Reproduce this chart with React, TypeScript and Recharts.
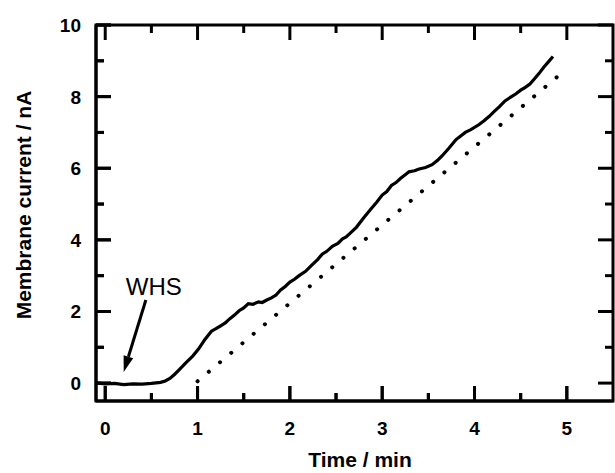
import { LineChart, Line, XAxis, YAxis, ReferenceLine } from "recharts";

// solid trace: membrane current after WHS addition
const traceTime = [
  -0.08, 0, 0.1, 0.2, 0.3, 0.4, 0.5, 0.6, 0.65, 0.7, 0.75, 0.8, 0.87, 0.95, 1.01,
  1.08, 1.15, 1.2, 1.25, 1.3, 1.35, 1.4, 1.45, 1.5, 1.55, 1.6, 1.66, 1.7, 1.75,
  1.8, 1.85, 1.9, 1.95, 2.0, 2.05, 2.1, 2.17, 2.24, 2.3, 2.35, 2.4, 2.46, 2.52,
  2.57, 2.61, 2.66, 2.72, 2.8, 2.88, 2.94, 3.0, 3.05, 3.1, 3.15, 3.2, 3.25, 3.29,
  3.35, 3.4, 3.47, 3.54, 3.6, 3.65, 3.72, 3.8, 3.85, 3.9, 3.96, 4.05, 4.1, 4.16,
  4.22, 4.27, 4.33, 4.4, 4.45, 4.5, 4.55, 4.6, 4.65, 4.7, 4.75, 4.8, 4.85,
];
const traceCurrent = [
  0.0, -0.02, -0.01, -0.04, -0.02, -0.03, -0.01, 0.02, 0.06, 0.13, 0.24, 0.37,
  0.56, 0.76, 0.95, 1.22, 1.45, 1.52, 1.6, 1.68, 1.8, 1.9, 2.02, 2.1, 2.22, 2.2,
  2.27, 2.25, 2.32, 2.38, 2.46, 2.6, 2.7, 2.82, 2.9, 3.0, 3.12, 3.3, 3.45, 3.6,
  3.68, 3.82, 3.9, 4.03, 4.08, 4.2, 4.35, 4.62, 4.87, 5.05, 5.25, 5.35, 5.52, 5.6,
  5.72, 5.82, 5.9, 5.93, 5.98, 6.02, 6.1, 6.22, 6.35, 6.55, 6.8, 6.9, 7.0, 7.08,
  7.22, 7.32, 7.45, 7.6, 7.72, 7.88, 8.0, 8.08, 8.18, 8.26, 8.35, 8.5, 8.65,
  8.82, 8.97, 9.12,
];

// dotted reference line
const fitTime = [1.0, 5.0];
const fitCurrent = [0.05, 8.78];

const xMajorTicks = [0, 1, 2, 3, 4, 5];
const xMinorTicks = [0.5, 1.5, 2.5, 3.5, 4.5];
const yMajorTicks = [0, 2, 4, 6, 8, 10];
const yMinorTicks = [1, 3, 5, 7, 9];

// arrow from the "WHS" label down to the trace
const arrowFrom = { x: 0.44, y: 2.32 };
const arrowTo = { x: 0.2, y: 0.31 };

const trace = traceTime.map((t, i) => ({ t, v: traceCurrent[i] }));
const fit = fitTime.map((t, i) => ({ t, v: fitCurrent[i] }));
const xTicks = [...xMajorTicks, ...xMinorTicks].sort((a, b) => a - b);
const yTicks = [...yMajorTicks, ...yMinorTicks].sort((a, b) => a - b);
const xDomain = [-0.1, 5.5];
const yDomain = [-0.5, 10];

const FONT = "'Liberation Sans', Arial, Helvetica, sans-serif";

const tickLen = (major: boolean) => (major ? 15 : 8);

const BottomTick = ({ x, y, payload }: any) => {
  const major = xMajorTicks.includes(payload.value);
  return (
    <g>
      <line x1={x} y1={y} x2={x} y2={y - tickLen(major)} stroke="#000" strokeWidth={3} />
      <text x={x} y={y + 34} textAnchor="middle" fontFamily={FONT} fontSize={19} fontWeight="bold" fill="#000">
        {major ? payload.value : ""}
      </text>
    </g>
  );
};

const LeftTick = ({ x, y, payload }: any) => {
  const major = yMajorTicks.includes(payload.value);
  return (
    <g>
      <line x1={x} y1={y} x2={x + tickLen(major)} y2={y} stroke="#000" strokeWidth={3} />
      <text x={x - 15} y={y + 7} textAnchor="end" fontFamily={FONT} fontSize={19} fontWeight="bold" fill="#000">
        {major ? payload.value : ""}
      </text>
    </g>
  );
};

// frame and inward ticks on all four sides, placed from the plot corners
// that the chart's scales give for the domain edges
const Frame = ({ x1, y1, x2, y2 }: any) => {
  const px = (v: number) => x1 + ((v - xDomain[0]) / (xDomain[1] - xDomain[0])) * (x2 - x1);
  const py = (v: number) => y1 + ((v - yDomain[0]) / (yDomain[1] - yDomain[0])) * (y2 - y1);
  return (
    <g>
      <rect
        x={Math.min(x1, x2)}
        y={Math.min(y1, y2)}
        width={Math.abs(x2 - x1)}
        height={Math.abs(y2 - y1)}
        fill="none"
        stroke="#000"
        strokeWidth={3}
      />
      {xTicks.map((v) => {
        const len = tickLen(xMajorTicks.includes(v));
        return (
          <g key={`x${v}`}>
            <line x1={px(v)} y1={y1} x2={px(v)} y2={y1 - len} stroke="#000" strokeWidth={3} />
            <line x1={px(v)} y1={y2} x2={px(v)} y2={y2 + len} stroke="#000" strokeWidth={3} />
          </g>
        );
      })}
      {yTicks.map((v) => {
        const len = tickLen(yMajorTicks.includes(v));
        return (
          <g key={`y${v}`}>
            <line x1={x1} y1={py(v)} x2={x1 + len} y2={py(v)} stroke="#000" strokeWidth={3} />
            <line x1={x2} y1={py(v)} x2={x2 - len} y2={py(v)} stroke="#000" strokeWidth={3} />
          </g>
        );
      })}
    </g>
  );
};

const Arrow = ({ x1, y1, x2, y2 }: any) => {
  const ang = Math.atan2(y2 - y1, x2 - x1);
  const len = 16;
  const half = 5;
  const bx = x2 - len * Math.cos(ang);
  const by = y2 - len * Math.sin(ang);
  const px = -Math.sin(ang) * half;
  const py = Math.cos(ang) * half;
  return (
    <g>
      <line x1={x1} y1={y1} x2={bx} y2={by} stroke="#000" strokeWidth={3} />
      <polygon points={`${x2},${y2} ${bx + px},${by + py} ${bx - px},${by - py}`} fill="#000" />
      <text x={x1 + 8} y={y1 - 5} textAnchor="middle" fontFamily={FONT} fontSize={24} fill="#000">
        WHS
      </text>
    </g>
  );
};

const axisLine = { stroke: "#000", strokeWidth: 3 };

const titleStyle = {
  position: "absolute" as const,
  fontFamily: FONT,
  fontSize: 21,
  fontWeight: "bold" as const,
  color: "#000",
  lineHeight: "21px",
  whiteSpace: "nowrap" as const,
};

export default function App() {
  return (
    <div style={{ position: "absolute", left: 0, top: 0, width: 615, height: 473, background: "#fff" }}>
      <LineChart width={615} height={473} margin={{ top: 25, right: 2, bottom: 0, left: 0 }}>
        <XAxis
          xAxisId="b"
          dataKey="t"
          type="number"
          domain={xDomain}
          ticks={xTicks}
          interval={0}
          tickSize={0}
          tickMargin={0}
          tickLine={false}
          tick={BottomTick}
          axisLine={axisLine}
          height={72}
        />
        <YAxis
          yAxisId="l"
          type="number"
          domain={yDomain}
          ticks={yTicks}
          interval={0}
          tickSize={0}
          tickMargin={0}
          tickLine={false}
          tick={LeftTick}
          axisLine={axisLine}
          width={96}
        />
        <Line
          xAxisId="b"
          yAxisId="l"
          data={fit}
          dataKey="v"
          stroke="#000"
          strokeWidth={4}
          strokeDasharray="0.1 14.6"
          strokeLinecap="round"
          dot={false}
          isAnimationActive={false}
        />
        <Line
          xAxisId="b"
          yAxisId="l"
          data={trace}
          dataKey="v"
          stroke="#000"
          strokeWidth={3.2}
          dot={false}
          isAnimationActive={false}
        />
        <ReferenceLine
          xAxisId="b"
          yAxisId="l"
          ifOverflow="visible"
          segment={[
            { x: xDomain[0], y: yDomain[0] },
            { x: xDomain[1], y: yDomain[1] },
          ]}
          shape={Frame}
        />
        <ReferenceLine xAxisId="b" yAxisId="l" segment={[arrowFrom, arrowTo]} shape={Arrow} />
      </LineChart>
      <div style={{ ...titleStyle, left: 360, top: 449, transform: "translateX(-50%)" }}>Time / min</div>
      <div
        style={{
          ...titleStyle,
          left: 23,
          top: 205,
          transform: "translate(-50%, -50%) rotate(-90deg)",
        }}
      >
        Membrane current / nA
      </div>
    </div>
  );
}
